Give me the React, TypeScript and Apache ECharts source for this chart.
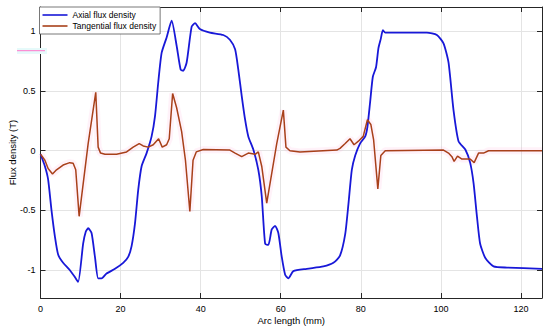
import React, { useEffect, useRef } from "react";
import * as echarts from "echarts";

const axialX = [0, 1.1, 1.9, 2.75, 3.6, 4.4, 5.65, 7.3, 8.6, 9.4, 10.65, 11.3, 11.9, 12.75, 13.6, 14.4, 15.25, 16.5, 18.6, 20.65, 21.9, 22.75, 23.6, 24.4, 25.25, 26.5, 27.75, 28.6, 29.4, 30.25, 31.5, 32.75, 34.0, 35.0, 35.65, 36.5, 37.75, 38.6, 39.8, 42.3, 45.65, 47.3, 48.6, 49.4, 50.25, 51.1, 51.9, 53.15, 54.4, 55.25, 56.1, 56.9, 57.75, 58.6, 59.4, 60.25, 61.1, 61.9, 63.15, 66.5, 70.65, 73.15, 74.8, 76.1, 76.9, 77.75, 78.6, 79.8, 81.1, 81.65, 82.3, 83.0, 83.8, 84.4, 85.0, 85.5, 86.1, 89.0, 96.5, 99.0, 100.65, 101.9, 103.15, 104.4, 106.1, 107.3, 108.15, 109.0, 109.8, 111.1, 113.15, 116.5, 125.25];
const axialY = [-0.03, -0.13, -0.24, -0.5, -0.72, -0.87, -0.94, -1.0, -1.06, -1.1, -0.78, -0.68, -0.65, -0.69, -0.89, -1.07, -1.07, -1.03, -0.99, -0.94, -0.89, -0.8, -0.61, -0.33, -0.13, -0.02, 0.12, 0.29, 0.57, 0.82, 0.95, 1.09, 0.88, 0.68, 0.67, 0.74, 1.04, 1.07, 1.02, 0.99, 0.97, 0.93, 0.85, 0.68, 0.46, 0.26, 0.12, 0.01, -0.16, -0.38, -0.78, -0.79, -0.66, -0.63, -0.69, -0.89, -1.04, -1.07, -1.01, -0.99, -0.97, -0.94, -0.88, -0.7, -0.45, -0.16, -0.04, 0.06, 0.12, 0.2, 0.4, 0.62, 0.7, 0.86, 0.94, 1.01, 0.99, 0.99, 0.99, 0.97, 0.9, 0.74, 0.34, 0.08, 0.01, -0.1, -0.27, -0.55, -0.78, -0.9, -0.97, -0.98, -0.99];

const tangX = [0, 0.25, 1.1, 1.9, 3.0, 4.0, 5.65, 7.3, 8.15, 8.8, 9.65, 11.9, 13.8, 14.4, 15.0, 16.1, 19.0, 21.5, 23.15, 24.65, 25.65, 26.9, 28.15, 29.5, 30.4, 31.5, 32.15, 33.0, 34.0, 35.25, 36.2, 37.3, 38.1, 38.9, 40.65, 47.3, 48.6, 50.25, 51.9, 53.6, 54.4, 55.25, 56.5, 59.0, 60.65, 61.3, 62.3, 64.8, 74.0, 74.8, 76.1, 77.3, 78.3, 79.4, 80.6, 81.65, 82.5, 83.2, 84.25, 85.0, 86.1, 100.65, 101.9, 102.75, 103.3, 104.15, 105.25, 107.3, 108.3, 109.4, 110.65, 111.9, 125.25];
const tangY = [-0.03, -0.04, -0.08, -0.15, -0.195, -0.16, -0.12, -0.1, -0.105, -0.16, -0.55, 0.06, 0.49, 0.03, -0.02, -0.03, -0.03, -0.01, 0.03, 0.06, 0.04, 0.03, 0.05, 0.1, 0.03, 0.05, 0.1, 0.48, 0.36, 0.16, -0.08, -0.51, -0.08, -0.01, 0.01, 0.005, -0.02, -0.05, -0.02, -0.03, -0.01, -0.13, -0.44, 0.06, 0.34, 0.03, 0.0, -0.01, 0.005, 0.02, 0.06, 0.1, 0.05, 0.08, 0.12, 0.26, 0.22, 0.09, -0.32, -0.04, 0.0, 0.005, -0.02, -0.05, -0.09, -0.045, -0.07, -0.07, -0.1, -0.02, -0.02, 0.0, 0.0];

const seriesNames = ["Axial flux density", "Tangential flux density"];
const xTitle = "Arc length (mm)";
const yTitle = "Flux density (T)";
const xMin = 0;
const xMax = 125.25;
const yMin = -1.235;
const yMax = 1.205;
const yTicks = [-1, -0.5, 0, 0.5, 1];
const yTickLabels = ["-1", "-0.5", "0", "0.5", "1"];

const FONT = "'Liberation Sans', Arial, Helvetica, sans-serif";
const AX = "#262626";

export default function App() {
  const ref = useRef<HTMLDivElement>(null);
  useEffect(() => {
    if (!ref.current) return;
    const chart = echarts.init(ref.current, undefined, { renderer: "svg" });
    const axial = axialX.map((x, i) => [x, axialY[i]]);
    const tang = tangX.map((x, i) => [x, tangY[i]]);
    const baseX = {
      type: "value" as const,
      min: xMin,
      max: xMax,
      interval: 20,
    };
    const baseY = {
      type: "value" as const,
      min: yMin,
      max: yMax,
    };
    const artifact = [
      { id: "artRect", type: "rect", shape: { x: 17, y: 48, width: 30, height: 6 }, style: { fill: "#e6fafa" }, z: 100 },
      { id: "artLine", type: "line", shape: { x1: 17, y1: 50.7, x2: 45, y2: 50.7 }, style: { stroke: "#ff77cc", lineWidth: 1 }, z: 101 },
    ];
    chart.setOption({
      animation: false,
      backgroundColor: "#ffffff",
      textStyle: { fontFamily: FONT },
      grid: {
        left: 40.5,
        right: 8,
        top: 7,
        bottom: 34,
        containLabel: false,
        outerBoundsMode: "none",
      },
      legend: {
        data: seriesNames,
        orient: "vertical",
        left: 39.5,
        top: 7,
        z: 2,
        padding: [3, 4, 3, 3],
        itemGap: 1,
        itemWidth: 25,
        itemHeight: 1.6,
        icon: "rect",
        backgroundColor: "#ffffff",
        borderColor: "#555555",
        borderWidth: 0.8,
        borderRadius: 0,
        textStyle: { fontSize: 8.5, color: "#000", fontFamily: FONT, lineHeight: 10 },
      },
      xAxis: [
        {
          ...baseX,
          position: "bottom",
          name: xTitle,
          nameLocation: "middle",
          nameGap: 17,
          nameMoveOverlap: false,
          nameTextStyle: { fontSize: 9.5, color: "#000", fontFamily: FONT },
          axisLine: { show: true, onZero: false, lineStyle: { color: AX, width: 1 } },
          axisTick: { show: true, inside: true, length: 5, lineStyle: { color: AX } },
          axisLabel: { fontSize: 9, color: "#000", margin: 6, showMaxLabel: false, fontFamily: FONT },
          splitLine: { show: true, lineStyle: { color: "#e4e4e4", width: 1 } },
        },
        {
          ...baseX,
          position: "top",
          axisLine: { show: true, onZero: false, lineStyle: { color: AX, width: 1 } },
          axisTick: { show: true, inside: true, length: 5, lineStyle: { color: AX } },
          axisLabel: { show: false },
          splitLine: { show: false },
        },
      ],
      yAxis: [
        {
          ...baseY,
          position: "left",
          name: yTitle,
          nameLocation: "middle",
          nameGap: 23,
          nameMoveOverlap: false,
          nameTextStyle: { fontSize: 9.5, color: "#000", fontFamily: FONT },
          axisLine: { show: true, onZero: false, lineStyle: { color: AX, width: 1 } },
          axisTick: { show: true, inside: true, length: 5, lineStyle: { color: AX }, customValues: yTicks },
          axisLabel: { show: false, customValues: yTicks },
          splitLine: { show: true, lineStyle: { color: "#e4e4e4", width: 1 } },
        },
        {
          ...baseY,
          position: "right",
          axisLine: { show: true, onZero: false, lineStyle: { color: AX, width: 1 } },
          axisTick: { show: true, inside: true, length: 5, lineStyle: { color: AX }, customValues: yTicks },
          axisLabel: { show: false },
          splitLine: { show: false },
        },
      ],
      graphic: { elements: artifact },
      series: [
        {
          name: "halo",
          type: "line",
          data: tang,
          symbol: "none",
          silent: true,
          xAxisIndex: 0,
          yAxisIndex: 0,
          lineStyle: { color: "rgba(255,160,210,0.14)", width: 7 },
          z: 1,
        },
        {
          name: seriesNames[0],
          type: "line",
          data: axial,
          symbol: "none",
          smooth: 0.2,
          xAxisIndex: 0,
          yAxisIndex: 0,
          color: "#1818d8",
          lineStyle: { color: "#1818d8", width: 1.8 },
          z: 3,
        },
        {
          name: seriesNames[1],
          type: "line",
          data: tang,
          symbol: "none",
          xAxisIndex: 0,
          yAxisIndex: 0,
          color: "#a8401a",
          lineStyle: { color: "#a8401a", width: 1.5 },
          z: 4,
        },
      ],
    });
    // y tick labels placed through the axis scale
    const x0 = chart.convertToPixel({ xAxisIndex: 0 }, xMin) as number;
    const labelEls = yTicks.map((v, i) => {
      const py = chart.convertToPixel({ yAxisIndex: 0 }, v) as number;
      return {
        id: "ylab" + i,
        type: "text",
        x: x0 - 5,
        y: py,
        z: 120,
        style: {
          text: yTickLabels[i],
          fontSize: 9,
          fontFamily: FONT,
          fill: "#000",
          align: "right",
          verticalAlign: "middle",
        },
      };
    });
    chart.setOption({ graphic: { elements: [...artifact, ...labelEls] } });
    return () => chart.dispose();
  }, []);
  return (
    <div
      ref={ref}
      style={{ position: "absolute", left: 0, top: 0, width: 550, height: 332 }}
    />
  );
}
